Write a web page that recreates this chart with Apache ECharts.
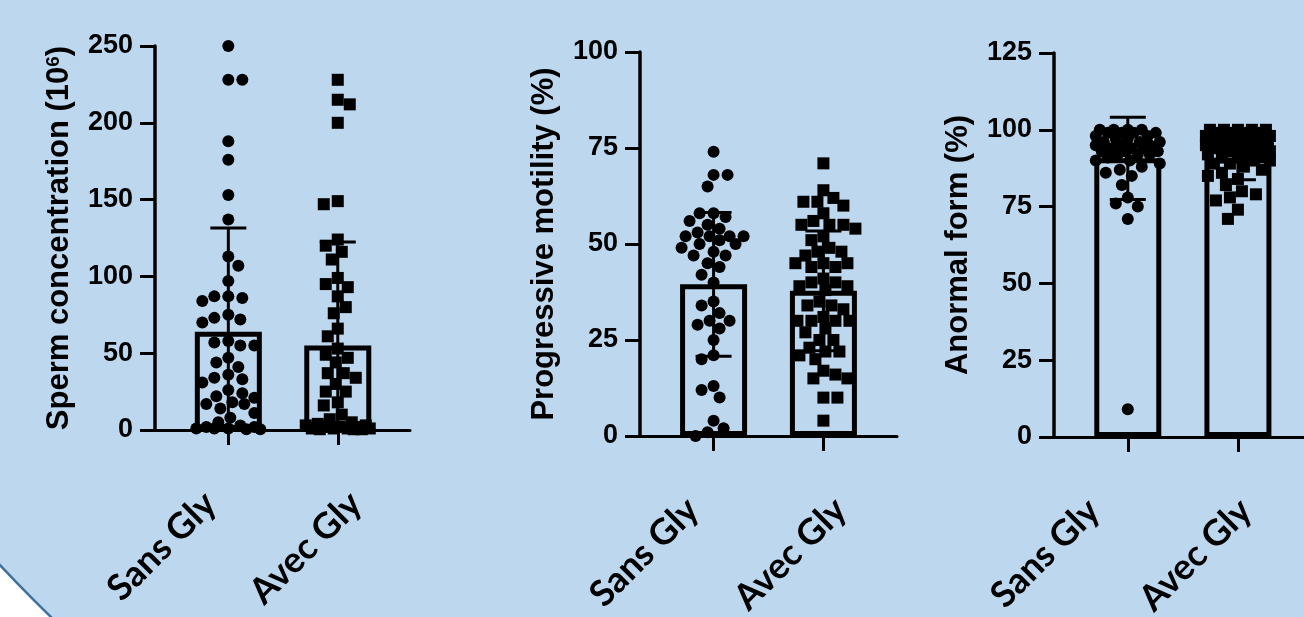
<!DOCTYPE html>
<html>
<head>
<meta charset="utf-8">
<script src="https://cdn.jsdelivr.net/npm/echarts@6/dist/echarts.min.js"></script>
<style>
html, body { margin: 0; padding: 0; background: #fff; }
#chart { width: 1304px; height: 617px; }
</style>
</head>
<body>
<div id="chart"></div>
<script>
// group labels shared by the three panels
var categories = ["Sans Gly", "Avec Gly"];

// sperm concentration (10^6)
var concSans = [250, 228, 228, 188, 176, 153, 137, 113, 107, 97, 87, 87, 86, 84, 75, 73, 72, 70,
    58, 57, 55, 55, 47, 44, 41, 36, 34, 33, 31, 26, 24, 22, 21, 18, 17, 17, 14, 11, 8, 5, 3, 2, 2,
    1, 1, 1, 0.5, 0.5];
var concAvec = [228, 215, 212, 200, 149, 147, 124, 120, 116, 111, 99, 95, 93, 87, 80, 76, 66, 61,
    53, 49, 47, 44, 37, 37, 34, 30, 25, 25, 18, 16, 10, 7, 5, 4, 3, 3, 2, 2, 2, 1, 1, 1, 1, 0.5, 0.5, 0.5];
var concMean = [64, 55];
var concSd = [67.5, 67.4];

// progressive motility (%)
var motSans = [74, 68, 68, 65, 58, 58, 57, 56, 55, 54, 53, 52, 52, 52, 52, 51, 50, 50, 49, 48, 47,
    47, 45, 44, 42, 40, 35, 34, 32, 30, 30, 29, 28, 25, 21, 20, 13, 12, 10, 4, 2, 1, 0];
var motAvec = [71, 64, 62, 61, 61, 60, 58, 56, 55, 55, 55, 54, 52, 51, 49, 48, 48, 47, 45, 45, 45,
    44, 44, 41, 40, 40, 39, 39, 38, 35, 34, 34, 33, 31, 30, 30, 30, 30, 28, 27, 25, 25, 23, 22, 22,
    21, 20, 17, 16, 15, 15, 10, 10, 4];
var motMean = [39.5, 37.8];
var motSd = [18.7, 15.6];

// anormal form (%)
var formSans = [100, 100, 100, 100, 99, 99, 99, 99, 98, 98, 97, 97, 96, 96, 96, 95, 95, 95, 94, 94,
    94, 93, 93, 93, 92, 92, 92, 91, 90, 90, 89, 88, 87, 86, 85, 82, 78, 76, 75, 71, 9];
var formAvec = [100, 100, 100, 100, 100, 99, 99, 99, 99, 98, 98, 98, 98, 97, 97, 97, 97, 96, 96, 96,
    96, 95, 95, 95, 95, 94, 94, 94, 93, 93, 93, 92, 92, 92, 91, 91, 90, 90, 89, 89, 88, 87, 86, 85,
    84, 82, 80, 79, 78, 77, 74, 71];
var formMean = [90.7, 90.7];
var formSd = [13.4, 7];

// panel layout in pixels (labelAt = where the slanted group names sit on the x axis)
var panels = [
    { left: 155, top: 46, width: 255, height: 384, max: 250, interval: 50, xMax: 1.66, labelAt: [-0.165, 1.165],
      title: "Sperm concentration (10{sup|6})", sans: concSans, avec: concAvec, mean: concMean, sd: concSd },
    { left: 640, top: 52, width: 257, height: 384, max: 100, interval: 25, xMax: 1.67, labelAt: [-0.19, 1.155],
      title: "Progressive motility (%)", sans: motSans, avec: motAvec, mean: motMean, sd: motSd },
    { left: 1054, top: 53, width: 250, height: 384, max: 125, interval: 25, xMax: 1.6, labelAt: [-0.31, 1.07],
      title: "Anormal form (%)", sans: formSans, avec: formAvec, mean: formMean, sd: formSd }
];
var xMin = -0.67;

// spread points sideways so they do not sit on top of each other
function swarm(values, center, pyPerUnit, bandPx) {
    var placed = [];
    var minDist = 12.5, step = 2, maxOff = 32;
    return values.map(function (v, idx) {
        var py = v * pyPerUnit;
        var best = 0, bestD = -1;
        var sign = idx % 2 === 0 ? 1 : -1;
        outer:
        for (var k = 0; k <= maxOff / step; k++) {
            var cands = k === 0 ? [0] : [sign * k * step, -sign * k * step];
            for (var c = 0; c < cands.length; c++) {
                var d = Infinity;
                placed.forEach(function (p) {
                    var dd = Math.sqrt(Math.pow(cands[c] - p.x, 2) + Math.pow(py - p.y, 2));
                    if (dd < d) d = dd;
                });
                if (d > bestD) { bestD = d; best = cands[c]; }
                if (d >= minDist) { best = cands[c]; break outer; }
            }
        }
        placed.push({ x: best, y: py });
        return [center + best / bandPx, v];
    });
}

var grids = [], xAxes = [], yAxes = [], series = [];
var axisFont = "'Liberation Sans', Arial, sans-serif";

panels.forEach(function (p, i) {
    var bandPx = p.width / (p.xMax - xMin);
    var pyPerUnit = p.height / p.max;

    grids.push({ left: p.left, top: p.top, width: p.width, height: p.height,
        containLabel: false, outerBoundsMode: "none" });

    xAxes.push({
        type: "value", gridIndex: i, min: xMin, max: p.xMax,
        axisLine: { show: true, onZero: false, lineStyle: { color: "#000", width: 3 } },
        axisTick: { show: true, customValues: [0, 1], length: 15, lineStyle: { color: "#000", width: 3 } },
        axisLabel: {
            customValues: p.labelAt, rotate: 45, margin: 68, color: "#000",
            fontFamily: "Lato, 'Open Sans', sans-serif", fontWeight: "bold", fontSize: 36,
            formatter: function (v) { return v < 0.5 ? categories[0] : categories[1]; }
        },
        splitLine: { show: false }
    });

    yAxes.push({
        type: "value", gridIndex: i, min: 0, max: p.max, interval: p.interval,
        axisLine: { show: true, onZero: false, lineStyle: { color: "#000", width: 3.5 } },
        axisTick: { show: true, length: 15, lineStyle: { color: "#000", width: 3 } },
        axisLabel: { color: "#000", fontFamily: axisFont, fontWeight: "bold", fontSize: 27, margin: 22 },
        splitLine: { show: false },
        name: p.title, nameLocation: "middle", nameGap: 80,
        nameTextStyle: {
            color: "#000", fontFamily: axisFont, fontWeight: "bold", fontSize: 31,
            rich: { sup: { fontFamily: axisFont, fontWeight: "bold", fontSize: 19, verticalAlign: "top" } }
        }
    });

    // mean bars, open
    series.push({
        type: "bar", xAxisIndex: i, yAxisIndex: i, barWidth: 67, z: 2,
        data: p.mean.map(function (m, k) { return [k, m]; }),
        itemStyle: { color: "rgba(0,0,0,0)", borderColor: "#000", borderWidth: 5 },
        silent: true
    });

    // mean +/- SD
    series.push({
        type: "custom", xAxisIndex: i, yAxisIndex: i, z: 3,
        data: p.mean.map(function (m, k) { return [k, m, p.sd[k]]; }),
        renderItem: function (params, api) {
            var x = api.value(0), m = api.value(1), sd = api.value(2);
            var hi = api.coord([x, m + sd]);
            var lo = api.coord([x, Math.max(m - sd, 0)]);
            var st = { stroke: "#000", lineWidth: 3 };
            var kids = [
                { type: "line", shape: { x1: hi[0], y1: hi[1], x2: lo[0], y2: lo[1] }, style: st },
                { type: "line", shape: { x1: hi[0] - 18, y1: hi[1], x2: hi[0] + 18, y2: hi[1] }, style: st }
            ];
            if (m - sd > 0) {
                kids.push({ type: "line", shape: { x1: lo[0] - 18, y1: lo[1], x2: lo[0] + 18, y2: lo[1] }, style: st });
            }
            return { type: "group", children: kids };
        }
    });

    series.push({
        type: "scatter", xAxisIndex: i, yAxisIndex: i, z: 4, symbol: "circle", symbolSize: 12,
        itemStyle: { color: "#000", opacity: 1 }, data: swarm(p.sans, 0, pyPerUnit, bandPx)
    });
    series.push({
        type: "scatter", xAxisIndex: i, yAxisIndex: i, z: 4, symbol: "rect", symbolSize: 12,
        itemStyle: { color: "#000", opacity: 1 }, data: swarm(p.avec, 1, pyPerUnit, bandPx)
    });
});

var chart = echarts.init(document.getElementById("chart"));
chart.setOption({
    animation: false,
    backgroundColor: "#fff",
    graphic: [{
        type: "circle", z: -10, silent: true,
        shape: { cx: 1095, cy: -460, r: 1500 },
        style: { fill: "#BDD7EE", stroke: "#41719C", lineWidth: 2.5 }
    }],
    grid: grids,
    xAxis: xAxes,
    yAxis: yAxes,
    series: series
});
</script>
</body>
</html>
